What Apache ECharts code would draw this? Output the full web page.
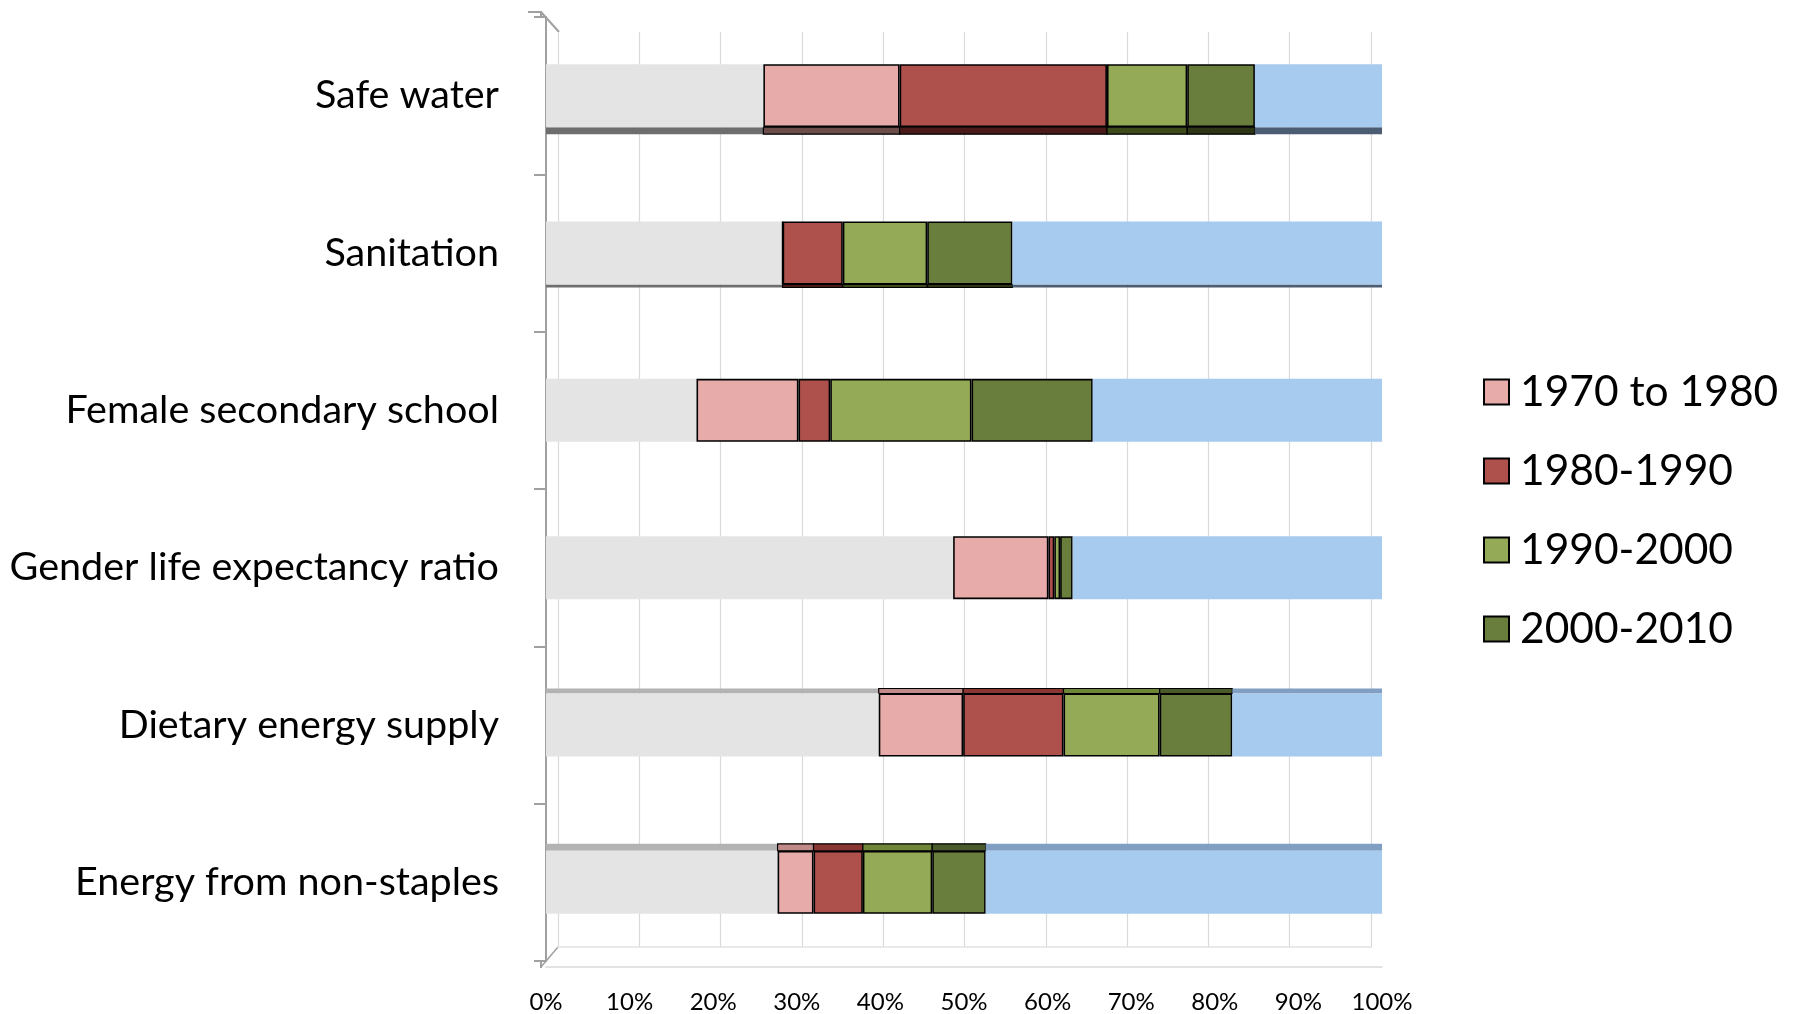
<!DOCTYPE html>
<html>
<head>
<meta charset="utf-8">
<script src="https://cdn.jsdelivr.net/npm/echarts@6/dist/echarts.min.js"></script>
<style>
  html, body { margin: 0; padding: 0; background: #fff; }
  #chart { width: 1794px; height: 1014px; }
</style>
</head>
<body>
<div id="chart"></div>
<script>
// categories top to bottom
const categories = ['Safe water', 'Sanitation', 'Female secondary school', 'Gender life expectancy ratio', 'Dietary energy supply', 'Energy from non-staples']
const tickLabels = ['0%', '10%', '20%', '30%', '40%', '50%', '60%', '70%', '80%', '90%', '100%']

// shares of 100%
const before1970 = [26.0, 28.3, 18.0, 48.7, 39.8, 27.7]
const d1970to1980 = [16.3, 0, 12.2, 11.4, 10.1, 4.3]
const d1980to1990 = [24.8, 7.2, 3.8, 0.7, 12.0, 5.9]
const d1990to2000 = [9.6, 10.1, 16.9, 0.7, 11.5, 8.3]
const d2000to2010 = [8.1, 10.2, 14.5, 1.5, 8.7, 6.4]
const remaining = [15.2, 44.2, 34.6, 37.0, 17.9, 47.4]

// fake 3d edge in px: + below the bar, - above it
const depth = [7, 3, 0, 0, -5, -7]

const chart = echarts.init(document.getElementById('chart'))

const BAR = 63
const layers = [
    { name: 'before', data: before1970, color: '#e4e4e4', below: '#6e6e6e', above: '#b3b3b3', border: false },
    { name: '1970 to 1980', data: d1970to1980, color: '#e7abaa', below: '#6c4d4a', above: '#c08a89', border: true },
    { name: '1980-1990', data: d1980to1990, color: '#ae514d', below: '#4a1a18', above: '#8a3734', border: true },
    { name: '1990-2000', data: d1990to2000, color: '#94aa56', below: '#3d4a1c', above: '#6f8538', border: true },
    { name: '2000-2010', data: d2000to2010, color: '#697d3d', below: '#2d3514', above: '#4a5a2a', border: true },
    { name: 'after', data: remaining, color: '#a7caef', below: '#4b5c73', above: '#809fc3', border: false }
]

// edge pieces: [category, start, end, layer]
let edges = []
categories.forEach((c, i) => {
    if (!depth[i]) return
    let acc = 0
    layers.forEach((l, li) => {
        edges.push([i, acc, acc + l.data[i], li])
        acc += l.data[i]
    })
})

const barSeries = layers.map((l) => ({
    name: l.name,
    type: 'bar',
    stack: 'all',
    barWidth: BAR,
    itemStyle: l.border
        ? { color: l.color, borderColor: '#000', borderWidth: 1.6 }
        : { color: l.color },
    emphasis: { disabled: true },
    data: l.data
}))

const edgeSeries = {
    type: 'custom',
    silent: true,
    encode: { x: [1, 2], y: 0 },
    data: edges,
    renderItem: (params, api) => {
        const cat = api.value(0)
        const l = layers[api.value(3)]
        const a = api.coord([api.value(1), cat])
        const b = api.coord([api.value(2), cat])
        const d = depth[cat]
        const y = d > 0 ? a[1] + BAR / 2 : a[1] - BAR / 2 + d
        return {
            type: 'rect',
            shape: { x: a[0], y, width: b[0] - a[0], height: Math.abs(d) },
            style: {
                fill: d > 0 ? l.below : l.above,
                stroke: l.border ? '#000' : null,
                lineWidth: 1.2
            }
        }
    }
}

const gray = '#a0a0a0'
const option = {
    animation: false,
    grid: [
        { left: 546, right: 412, top: 17, bottom: 53 },
        // back wall of the 3d plot
        { left: 558, right: 423, top: 32, bottom: 67 }
    ],
    legend: {
        data: ['1970 to 1980', '1980-1990', '1990-2000', '2000-2010'],
        orient: 'vertical',
        left: 1478,
        top: 365,
        itemWidth: 25,
        itemHeight: 25,
        itemGap: 35,
        icon: 'rect',
        textStyle: { fontFamily: 'Lato', fontSize: 42.5, color: '#000', lineHeight: 44, padding: [0, 0, 0, 6] }
    },
    xAxis: [
        {
            gridIndex: 0,
            type: 'value',
            min: 0,
            max: 100,
            interval: 10,
            offset: 6,
            axisLine: { show: true, lineStyle: { color: '#d9d9d9', width: 1.5 } },
            axisTick: { show: false },
            splitLine: { show: false },
            axisLabel: {
                margin: 23,
                fontFamily: "'Liberation Sans Narrow', Lato",
                fontSize: 24,
                color: '#000',
                formatter: (v) => tickLabels[Math.round(v / 10)]
            }
        },
        {
            gridIndex: 1,
            type: 'value',
            min: 0,
            max: 100,
            interval: 10,
            axisLine: { show: true, lineStyle: { color: '#e2e2e2', width: 1.5 } },
            axisTick: { show: false },
            axisLabel: { show: false },
            splitLine: { show: true, lineStyle: { color: '#dadada', width: 1.2 } }
        }
    ],
    yAxis: [
        {
            gridIndex: 0,
            type: 'category',
            inverse: true,
            data: categories,
            offset: 5,
            axisLine: { show: true, lineStyle: { color: gray, width: 2 } },
            axisTick: { show: true, length: 12, lineStyle: { color: gray, width: 2 } },
            axisLabel: { margin: 42, fontFamily: 'Lato', fontSize: 39.5, color: '#000' }
        },
        {
            gridIndex: 1,
            type: 'category',
            inverse: true,
            data: categories,
            show: false
        }
    ],
    graphic: [
        { type: 'polyline', silent: true, shape: { points: [[541, 18], [541, 12], [528, 12]] }, style: { stroke: gray, lineWidth: 2, fill: null } },
        { type: 'line', silent: true, shape: { x1: 541, y1: 12, x2: 559, y2: 32 }, style: { stroke: gray, lineWidth: 2 } },
        { type: 'line', silent: true, shape: { x1: 541, y1: 960, x2: 541, y2: 968 }, style: { stroke: gray, lineWidth: 2 } },
        { type: 'line', silent: true, shape: { x1: 541, y1: 967, x2: 558, y2: 947 }, style: { stroke: gray, lineWidth: 1.5 } }
    ],
    series: [...barSeries, edgeSeries]
}

chart.setOption(option)
</script>
</body>
</html>
